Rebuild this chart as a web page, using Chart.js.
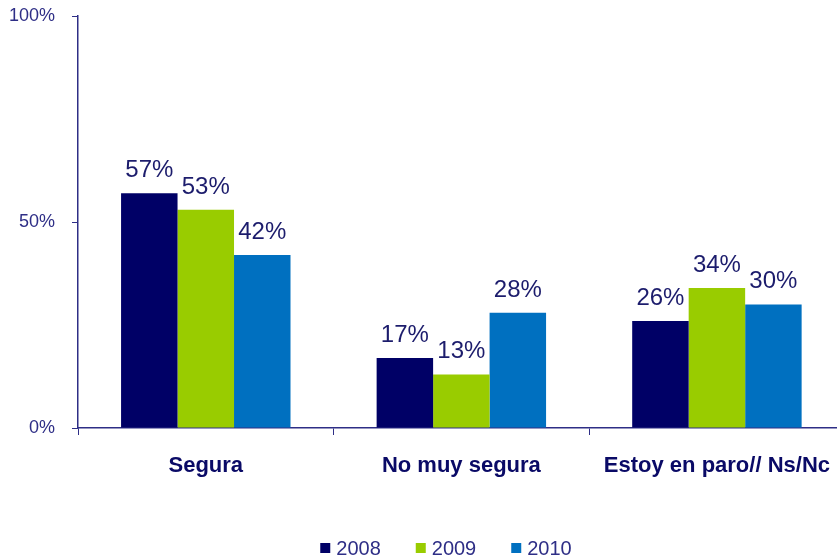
<!DOCTYPE html>
<html>
<head>
<meta charset="utf-8">
<script src="https://cdn.jsdelivr.net/npm/chart.js@4"></script>
<style>
  html, body { margin: 0; padding: 0; background: #fff; overflow: hidden; }
  #wrap { width: 848px; height: 560px; }
</style>
</head>
<body>
<div id="wrap"><canvas id="myChart" width="848" height="560"></canvas></div>
<script>
const categorias = ["Segura", "No muy segura", "Estoy en paro// Ns/Nc"];
const anios = ["2008", "2009", "2010"];
const valores2008 = [57, 17, 26];
const valores2009 = [53, 13, 34];
const valores2010 = [42, 28, 30];
const ticksY = [0, 50, 100];

const azulEje = "#2e2e86";
const fuente = "'Liberation Sans', Arial, sans-serif";

// etiquetas de valor encima de cada barra
const etiquetas = {
  id: "etiquetas",
  afterDatasetsDraw(chart) {
    const c = chart.ctx;
    c.save();
    c.font = "24px " + fuente;
    c.fillStyle = "#1c1c6c";
    c.textAlign = "center";
    c.textBaseline = "alphabetic";
    chart.data.datasets.forEach((ds, i) => {
      chart.getDatasetMeta(i).data.forEach((bar, j) => {
        c.fillText(ds.data[j] + "%", bar.x, bar.y - 16);
      });
    });
    c.restore();
  }
};

// leyenda propia, con separacion como en el original
const leyenda = {
  id: "leyenda",
  afterDraw(chart) {
    const c = chart.ctx;
    c.save();
    c.font = "20px " + fuente;
    c.textBaseline = "middle";
    const gap = 35, caja = 10, sep = 6;
    const anchos = chart.data.datasets.map(ds => caja + sep + c.measureText(ds.label).width);
    const total = anchos.reduce((a, b) => a + b, 0) + gap * (anchos.length - 1);
    let x = 446 - total / 2;
    const y = 548;
    chart.data.datasets.forEach((ds, i) => {
      c.fillStyle = ds.backgroundColor;
      c.fillRect(x, y - caja / 2, caja, caja);
      c.fillStyle = azulEje;
      c.fillText(ds.label, x + caja + sep, y + 1);
      x += anchos[i] + gap;
    });
    c.restore();
  }
};

const ctx = document.getElementById("myChart");

const chart = new Chart(ctx, {
  type: "bar",
  data: {
    labels: categorias,
    datasets: [
      { label: anios[0], data: valores2008, backgroundColor: "#000066" },
      { label: anios[1], data: valores2009, backgroundColor: "#99cc00" },
      { label: anios[2], data: valores2010, backgroundColor: "#0070c0" },
    ],
  },
  options: {
    responsive: false,
    animation: false,
    layout: { padding: { top: 0, right: 0, bottom: 28, left: 0 } },
    datasets: {
      bar: { categoryPercentage: 0.663, barPercentage: 1 }
    },
    plugins: {
      tooltip: { enabled: false },
      legend: { display: false },
    },
    scales: {
      x: {
        grid: { display: true, drawOnChartArea: false, offset: true, color: azulEje, tickLength: 7 },
        border: { color: azulEje, width: 1.5 },
        ticks: { color: "#0a0a66", padding: 18, font: { family: fuente, size: 22, weight: "bold" } },
        afterFit(scale) { scale.height = 104; },
      },
      y: {
        min: 0,
        max: 100,
        afterBuildTicks(scale) { scale.ticks = ticksY.map(v => ({ value: v })); },
        grid: { display: true, drawOnChartArea: false, color: azulEje, tickLength: 6 },
        border: { color: azulEje, width: 1.5 },
        ticks: {
          color: azulEje,
          padding: 17,
          font: { family: fuente, size: 18 },
          callback: v => v + "%",
        },
        afterFit(scale) {
          scale.width = 78;
          scale.paddingTop = 16;
          scale.paddingBottom = 11;
        },
      },
    },
  },
  plugins: [etiquetas, leyenda],
});
</script>
</body>
</html>
